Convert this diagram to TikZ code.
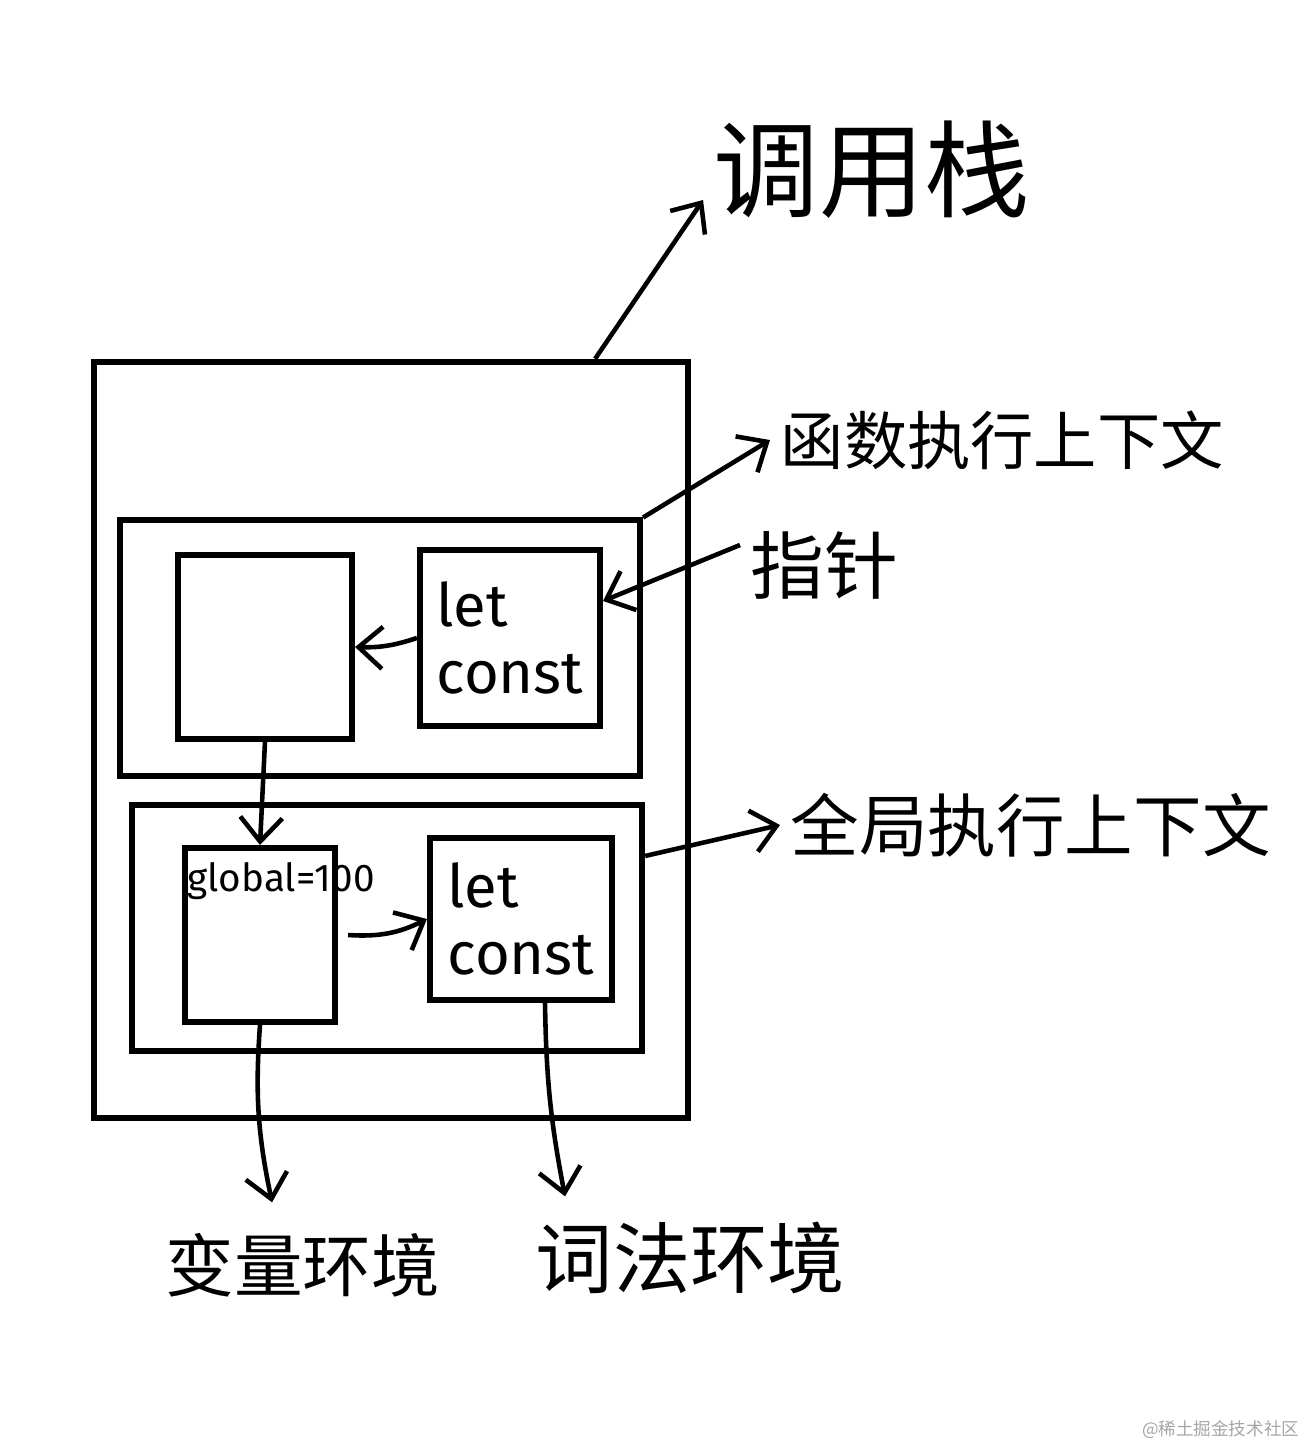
\documentclass[tikz,border=0pt]{standalone}
\usepackage{fontspec}
\setmainfont{Fira Sans}
\newfontfamily\cjk{Noto Sans CJK SC}
\usepackage{tikz}
\usetikzlibrary{positioning,arrows.meta,calc}

\begin{document}
\begin{tikzpicture}[
  x=0.01cm, y=-0.01cm,
  box/.style={draw, line width=1.7pt, inner sep=0pt},
  arr/.style={-{Straight Barb[length=2.4mm, width=4.2mm]}, line width=1.3pt},
  lbl/.style={font=\cjk\fontsize{19.5}{22}\selectfont, inner sep=0pt},
  code/.style={font=\fontsize{17}{19}\selectfont, align=left},
]
\useasboundingbox (0,0) rectangle (1308,1444);

% ===== call stack =====
\node[lbl, font=\cjk\fontsize{30}{32}\selectfont] (callstack) at (872,170) {调用栈};
\node[box, minimum width=5.93cm, minimum height=7.56cm] (stack) at (391,740) {};

% ===== function context =====
\node[box, minimum width=5.2cm, minimum height=2.55cm] (fnctx) at (380,648) {};
\node[box, minimum width=1.74cm, minimum height=1.83cm] (fnvar) at (265,647) {};
\node[box, code, minimum width=1.8cm, minimum height=1.75cm] (fnlex) at (510,638) {let\\const};

% ===== global context =====
\node[box, minimum width=5.1cm, minimum height=2.45cm] (globctx) at (387,928) {};
\node[box, minimum width=1.5cm, minimum height=1.74cm] (globvar) at (260,935) {};
\node[box, code, minimum width=1.82cm, minimum height=1.62cm] (globlex) at (521,919) {let\\const};
\node[font=\fontsize{11}{13}\selectfont, anchor=north west, inner sep=0pt] (globval) at ($(globvar.north west)+(5,17)$) {global=100};

% ===== labels =====
\node[lbl, anchor=west, font=\cjk\fontsize{18}{20}\selectfont] (fnlabel) at (780,440) {函数执行上下文};
\node[lbl, anchor=west, font=\cjk\fontsize{21}{23}\selectfont] (ptr) at (750,565) {指针};
\node[lbl, anchor=west] (globlabel) at (790,825) {全局执行上下文};
\node[lbl, anchor=west] (varenv) at (165,1265) {变量环境};
\node[lbl, anchor=west, font=\cjk\fontsize{22}{24}\selectfont] (lexenv) at (535,1258) {词法环境};
\node[font=\cjk\fontsize{5}{6}\selectfont, text=black!35, anchor=east, inner sep=0pt] (mark) at (1300,1430) {@稀土掘金技术社区};

% ===== arrows =====
\draw[arr] ([xshift=2.04cm]stack.north) -- ([xshift=-0.1cm, yshift=-0.3cm]callstack.west);
\draw[arr] (fnctx.north east) -- ([xshift=-0.1cm]fnlabel.west);
\draw[arr] ([xshift=-0.1cm, yshift=0.2cm]ptr.west) -- ([yshift=0.37cm]fnlex.east);
\draw[arr] (fnlex.west) to[bend left=10] (fnvar.east);
\draw[arr] (fnvar.south) -- (globvar.north);
\draw[arr] ([xshift=0.1cm]globvar.east) to[bend right=15] (globlex.west);
\draw[arr] ([yshift=0.72cm]globctx.east) -- ([xshift=-0.1cm]globlabel.west);
\draw[arr] (globvar.south) to[bend right=8] ([xshift=1.07cm, yshift=0.3cm]varenv.north west);
\draw[arr] ([xshift=0.24cm]globlex.south) to[bend right=5] ([xshift=0.3cm, yshift=0.25cm]lexenv.north west);

\end{tikzpicture}
\end{document}
